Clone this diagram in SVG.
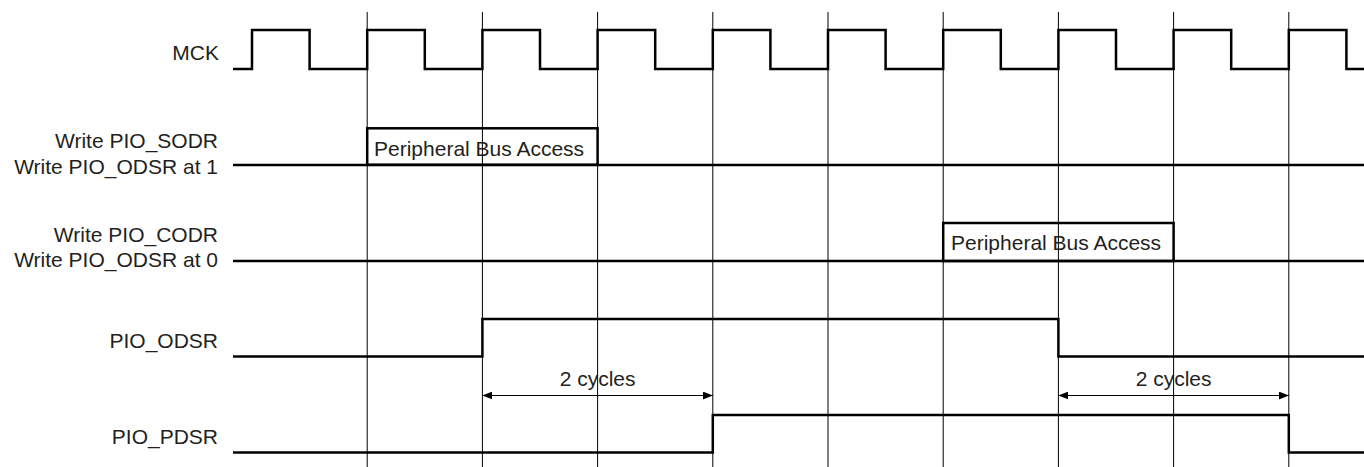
<svg xmlns="http://www.w3.org/2000/svg" width="1364" height="467" viewBox="0 0 1364 467">
<style>
text{font-family:"Liberation Sans",Arial,sans-serif;font-size:21px;fill:#231f20}
.lbl{text-anchor:end}
.mid{text-anchor:middle}
.sig{fill:none;stroke:#000;stroke-width:2.5}
.grid{fill:none;stroke:#000;stroke-width:1}
.box{fill:none;stroke:#000;stroke-width:2.5}
.dim{fill:none;stroke:#000;stroke-width:1.2}
</style>
<defs>
<marker id="ah" viewBox="0 0 10 8" refX="10" refY="4" markerWidth="10" markerHeight="8" markerUnits="userSpaceOnUse" orient="auto-start-reverse">
<path d="M0,0 L10,4 L0,8 Z" fill="#000"/>
</marker>
</defs>
<rect width="1364" height="467" fill="#fff"/>
<g id="mck">
<text class="lbl" x="219" y="59.5">MCK</text>
<path class="sig" d="M233,69 H252 V30 H309.6 V69 H367.2 V30 H424.8 V69 H482.4 V30 H540 V69 H597.6 V30 H655.2 V69 H712.8 V30 H770.4 V69 H828 V30 H885.6 V69 H943.2 V30 H1000.8 V69 H1058.4 V30 H1116 V69 H1173.6 V30 H1231.2 V69 H1288.8 V30 H1346.4 V69 H1364"/>
</g>
<g id="write-sodr">
<text class="lbl" x="218" y="147.5">Write PIO_SODR</text>
<text class="lbl" x="218" y="173.5">Write PIO_ODSR at 1</text>
<path class="sig" d="M233,165 H1364"/>
<rect class="box" x="367.2" y="128.3" width="230.4" height="36.5"/>
<text x="374" y="155.5">Peripheral Bus Access</text>
</g>
<g id="write-codr">
<text class="lbl" x="218" y="242">Write PIO_CODR</text>
<text class="lbl" x="218" y="266.5">Write PIO_ODSR at 0</text>
<path class="sig" d="M233,261 H1364"/>
<rect class="box" x="943.2" y="223" width="230.4" height="38"/>
<text x="951" y="249.5">Peripheral Bus Access</text>
</g>
<g id="pio-odsr">
<text class="lbl" x="218" y="348">PIO_ODSR</text>
<path class="sig" d="M233,356.5 H482.4 V319 H1058.4 V356.5 H1364"/>
</g>
<g id="pio-pdsr">
<text class="lbl" x="218" y="443.5">PIO_PDSR</text>
<path class="sig" d="M233,452.5 H712.8 V415 H1288.8 V452.5 H1364"/>
</g>
<g id="grid">
<path class="grid" d="M367.2,12 V467 M482.4,12 V467 M597.6,12 V467 M712.8,12 V467 M828,12 V467 M943.2,12 V467 M1058.4,12 V467 M1173.6,12 V467 M1288.8,12 V467"/>
</g>
<g id="connectors">
<path class="dim" d="M482.4,395.5 H712.8" marker-start="url(#ah)" marker-end="url(#ah)"/>
<text class="mid" x="597.6" y="386">2 cycles</text>
<path class="dim" d="M1058.4,395.5 H1288.8" marker-start="url(#ah)" marker-end="url(#ah)"/>
<text class="mid" x="1173.6" y="386">2 cycles</text>
</g>
</svg>
